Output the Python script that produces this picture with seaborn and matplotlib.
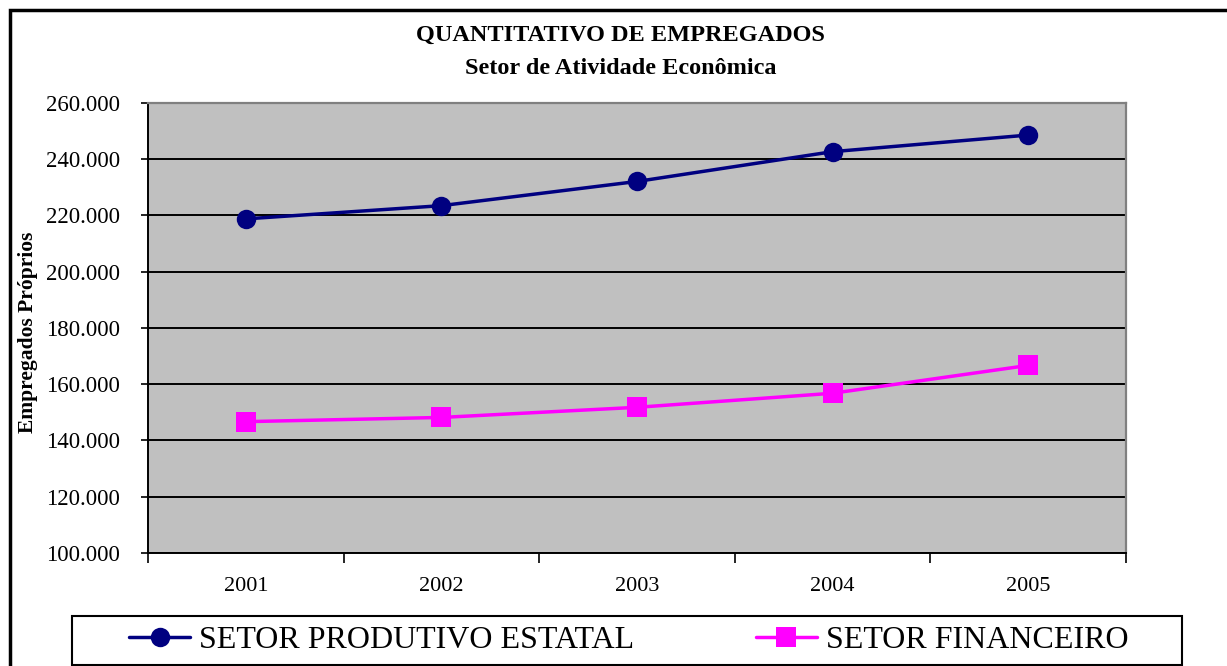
import numpy as np
import pandas as pd
import matplotlib
matplotlib.use("Agg")
import matplotlib.pyplot as plt
from matplotlib.patches import Rectangle
from matplotlib.ticker import FuncFormatter, FixedLocator
import seaborn as sns

# ---- data ----
years = ["2001", "2002", "2003", "2004", "2005"]
produtivo = [218800, 223500, 232100, 242700, 248600]
financeiro = [146700, 148200, 151800, 156800, 166700]
series_names = ["SETOR PRODUTIVO ESTATAL", "SETOR FINANCEIRO"]
title_line1 = "QUANTITATIVO DE EMPREGADOS"
title_line2 = "Setor de Atividade Econômica"
ylabel = "Empregados Próprios"

sns.set_style("white")
plt.rcParams["font.family"] = ["Liberation Serif", "DejaVu Serif"]
plt.rcParams["text.color"] = "black"
plt.rcParams["xtick.color"] = "black"
plt.rcParams["ytick.color"] = "black"
plt.rcParams["xtick.labelcolor"] = "black"
plt.rcParams["ytick.labelcolor"] = "black"
plt.rcParams["axes.labelcolor"] = "black"

df = pd.DataFrame({
    "pos": list(range(len(years))) * 2,
    "valor": produtivo + financeiro,
    "serie": [series_names[0]] * len(years) + [series_names[1]] * len(years),
})

W, H = 1227, 666
fig = plt.figure(figsize=(W / 100, H / 100), dpi=100)
ax = fig.add_axes([148 / W, 1 - 553 / H, (1126 - 148) / W, (553 - 103) / H])
ax.set_facecolor("#C0C0C0")

palette = {series_names[0]: "#000080", series_names[1]: "#FF00FF"}
markers = {series_names[0]: "o", series_names[1]: "s"}
sns.lineplot(data=df, x="pos", y="valor", hue="serie", style="serie",
             markers=markers, dashes=False, palette=palette, ax=ax,
             linewidth=2.5, markersize=14, markeredgewidth=0, legend=True)
handles, labels = ax.get_legend_handles_labels()
ax.get_legend().remove()
for h in handles:
    h.set_linewidth(2.5)
    h.set_markersize(14)
    h.set_markeredgewidth(0)

ax.set_xlim(-0.5, len(years) - 0.5)
ax.set_ylim(100000, 260000)
ax.set_yticks(np.arange(100000, 260001, 20000))
ax.yaxis.set_major_formatter(FuncFormatter(lambda v, p: f"{int(v):,}".replace(",", ".")))
ax.xaxis.set_major_locator(FixedLocator(np.arange(-0.5, len(years), 1.0)))
ax.xaxis.set_minor_locator(FixedLocator(np.arange(len(years))))
ax.set_xticklabels([], minor=False)
ax.set_xticklabels(years, minor=True)
ax.tick_params(axis="x", which="major", length=7, width=1.2, color="black", direction="out", bottom=True)
ax.tick_params(axis="x", which="minor", length=0, pad=17, labelsize=16, labelcolor="black")
ax.tick_params(axis="y", which="major", length=5, width=1.2, color="black", direction="out",
               left=True, pad=15, labelsize=16.5, labelcolor="black")
ax.set_xlabel("")
ax.set_ylabel("")

ax.yaxis.grid(True, color="black", linewidth=1.4)
ax.xaxis.grid(False)
ax.set_axisbelow(True)
for side in ["top", "right"]:
    ax.spines[side].set_color("#808080")
    ax.spines[side].set_linewidth(1.6)
for side in ["left", "bottom"]:
    ax.spines[side].set_color("black")
    ax.spines[side].set_linewidth(1.4)

fig.text(0.5 + 7 / W, 1 - 35 / H, title_line1, ha="center", va="center",
         fontsize=17.5, fontweight="bold", color="black")
fig.text(0.5 + 7 / W, 1 - 69 / H, title_line2, ha="center", va="center",
         fontsize=17.5, fontweight="bold", color="black")
fig.text(28 / W, 1 - 332 / H, ylabel, rotation=90, ha="center", va="center",
         fontsize=15.5, fontweight="bold", color="black")

# outer chart frame
fig.add_artist(Rectangle((10 / W, -0.1), 1.2, (1 - 10 / H) + 0.1, transform=fig.transFigure,
                         fill=False, edgecolor="black", linewidth=2.5))
# legend frame
fig.add_artist(Rectangle((72 / W, 1 - 665 / H), (1182 - 72) / W, (665 - 616) / H,
                         transform=fig.transFigure, fill=False, edgecolor="black", linewidth=1.5))
leg = fig.legend(handles, labels, loc="center", bbox_to_anchor=(629 / W, 1 - 640 / H),
                 ncol=2, frameon=False, fontsize=23, handlelength=1.9, handletextpad=0.3,
                 columnspacing=3.8, borderpad=0)
for t in leg.get_texts():
    t.set_color("black")

fig.savefig("out.png", dpi=100)
